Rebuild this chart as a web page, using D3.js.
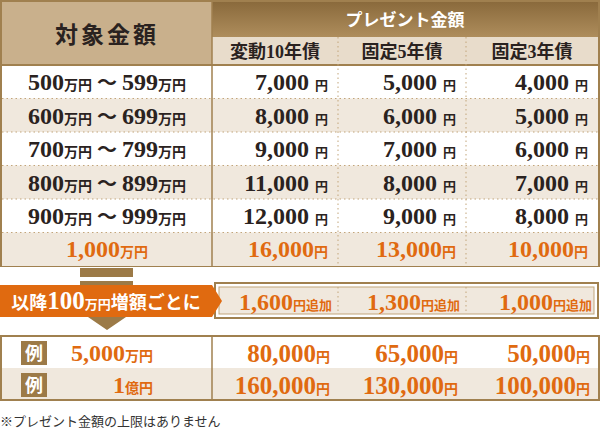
<!DOCTYPE html><html><head><meta charset="utf-8"><script src="https://cdn.jsdelivr.net/npm/d3@7"></script>
<style>body{margin:0;background:#fff}</style></head><body><svg id="c" width="600" height="430"></svg>
<script>
const columns=["変動10年債","固定5年債","固定3年債"];
const rangeLo=[500,600,700,800,900];
const rangeHi=[599,699,799,899,999];
const rowValues=[[7000,5000,4000],[8000,6000,5000],[9000,7000,6000],[11000,8000,7000],[12000,9000,8000]];
const baseValues=[16000,13000,10000];
const stepValues=[1600,1300,1000];
const exampleLabels=[["5,000","万円"],["1","億円"]];
const exampleValues=[[80000,65000,50000],[160000,130000,100000]];
const fmt=d3.format(",");
const svg=d3.select("#c");
const F="'Liberation Serif','Noto Sans CJK JP',serif";
const J="'Noto Sans CJK JP',sans-serif";
const brown="#a0804f",orange="#e06a10",dark="#2a2220";
const colX=d3.scaleOrdinal().domain([0,1,2,3]).range([2,212,338,466]);
const colEnd=[212,338,466,598];
const rowY=d3.scaleBand().domain(d3.range(6)).range([65,266]);
const defs=svg.append("defs");
const g=defs.append("linearGradient").attr("id","hg").attr("x1",0).attr("x2",0).attr("y1",0).attr("y2",1);
g.append("stop").attr("offset",0).attr("stop-color","#8a6a3c");g.append("stop").attr("offset",1).attr("stop-color","#ae8d5c");
svg.append("rect").attr("x",1).attr("y",1).attr("width",598).attr("height",265).attr("fill","#fff").attr("stroke",brown).attr("stroke-width",2);
svg.append("rect").attr("x",2).attr("y",2).attr("width",210).attr("height",63).attr("fill","#c9b08c");
svg.append("rect").attr("x",212).attr("y",2).attr("width",386).attr("height",35).attr("fill","url(#hg)");
svg.append("rect").attr("x",212).attr("y",37).attr("width",386).attr("height",28).attr("fill","#e8dccb");
svg.append("text").attr("x",107).attr("y",43).attr("text-anchor","middle").attr("font-family",J).attr("font-weight",700).attr("font-size",23).attr("fill",dark).attr("letter-spacing",3).text("対象金額");
svg.append("text").attr("x",405).attr("y",26).attr("text-anchor","middle").attr("font-family",J).attr("font-weight",700).attr("font-size",17).attr("fill","#fff").text("プレゼント金額");
columns.forEach((c,i)=>svg.append("text").attr("x",(colX(i+1)+colEnd[i+1])/2).attr("y",58).attr("text-anchor","middle").attr("font-family",F).attr("font-weight",700).attr("font-size",18).attr("fill",dark).text(c));
const rows=d3.range(6);
svg.selectAll(".rb").data(rows).join("rect").attr("x",2).attr("width",596).attr("y",d=>rowY(d)).attr("height",rowY.bandwidth()).attr("fill",d=>d%2?"#f0e8dd":"#fff");
svg.selectAll(".rl").data(d3.range(1,6)).join("line").attr("x1",2).attr("x2",598).attr("y1",d=>rowY(d)).attr("y2",d=>rowY(d)).attr("stroke","#c2a57a").attr("stroke-dasharray","1.5,3");
svg.append("line").attr("x1",2).attr("x2",598).attr("y1",65).attr("y2",65).attr("stroke",brown).attr("stroke-width",2);
svg.append("line").attr("x1",212).attr("x2",212).attr("y1",2).attr("y2",266).attr("stroke",brown).attr("stroke-width",1.5);
[338,466].forEach(x=>svg.append("line").attr("x1",x).attr("x2",x).attr("y1",37).attr("y2",266).attr("stroke","#c2a57a").attr("stroke-dasharray","1.5,3"));
function money(sel,x,y,num,unit,col,ns,us,anchor){
 const t=sel.append("text").attr("x",x).attr("y",y).attr("text-anchor",anchor||"end").attr("font-family",F).attr("font-weight",700).attr("fill",col);
 t.append("tspan").attr("font-size",ns).text(num);
 t.append("tspan").attr("font-size",us).attr("font-family",J).attr("font-weight",700).text(unit);
}
rangeLo.forEach((lo,i)=>{
 const y=rowY(i)+25;
 const t=svg.append("text").attr("x",107).attr("y",y).attr("text-anchor","middle").attr("font-family",F).attr("font-weight",700).attr("fill",dark);
 t.append("tspan").attr("font-size",24).text(lo);t.append("tspan").attr("font-size",14).attr("font-family",J).text("万円");
 t.append("tspan").attr("font-size",20).text(" ～ ");
 t.append("tspan").attr("font-size",24).text(rangeHi[i]);t.append("tspan").attr("font-size",14).attr("font-family",J).text("万円");
 rowValues[i].forEach((v,j)=>money(svg,colEnd[j+1]-10,y,fmt(v)+" ","円",dark,24,13));
});
{const y=rowY(5)+24;
 money(svg,107,y,"1,000","万円",orange,24,14,"middle");
 baseValues.forEach((v,j)=>money(svg,colEnd[j+1]-10,y,fmt(v),"円",orange,24,14));}
svg.append("rect").attr("x",80).attr("y",268).attr("width",53).attr("height",9).attr("fill","#9c7a47");
svg.append("path").attr("d","M80,281H133V304H145L107,330L69,304H80Z").attr("fill","#9c7a47");
svg.append("rect").attr("x",215).attr("y",283).attr("width",383).attr("height",35).attr("fill","#fff").attr("stroke",brown).attr("stroke-width",2);
svg.append("rect").attr("x",219).attr("y",287).attr("width",375).attr("height",27).attr("fill","#f0e8dd").attr("stroke","#c2a57a");
[338,466].forEach(x=>svg.append("line").attr("x1",x).attr("x2",x).attr("y1",287).attr("y2",314).attr("stroke","#c2a57a").attr("stroke-dasharray","1.5,3"));
svg.append("path").attr("d","M0,285H212L222,301L212,317H0Z").attr("fill",orange);
{const t=svg.append("text").attr("x",106).attr("y",309).attr("text-anchor","middle").attr("font-family",J).attr("font-weight",700).attr("fill","#fff").attr("font-size",18);
 t.append("tspan").text("以降");t.append("tspan").attr("font-family",F).attr("font-size",25).text("100");t.append("tspan").attr("font-size",13).text("万円");t.append("tspan").text("増額ごとに");}
stepValues.forEach((v,j)=>money(svg,colEnd[j+1]-6,310,fmt(v),"円追加",orange,24,13));
svg.append("rect").attr("x",1).attr("y",336).attr("width",598).attr("height",64).attr("fill","#fff").attr("stroke",brown).attr("stroke-width",2);
svg.append("rect").attr("x",2).attr("y",368).attr("width",596).attr("height",31).attr("fill","#f0e8dd");
svg.append("line").attr("x1",212).attr("x2",212).attr("y1",336).attr("y2",400).attr("stroke",brown).attr("stroke-width",1.5);
exampleLabels.forEach((l,i)=>{
 const y=336+i*32;
 svg.append("rect").attr("x",21).attr("y",y+5).attr("width",26).attr("height",24).attr("fill","#9c7a47");
 svg.append("text").attr("x",34).attr("y",y+24).attr("text-anchor","middle").attr("font-family",J).attr("font-weight",700).attr("font-size",18).attr("fill","#fff").text("例");
 money(svg,153,y+25,l[0],l[1],orange,24,14);
 exampleValues[i].forEach((v,j)=>money(svg,colEnd[j+1]-8,y+26,fmt(v),"円",orange,25,14));
});
svg.append("text").attr("x",0).attr("y",426).attr("font-family",J).attr("font-size",13).attr("fill","#333").text("※プレゼント金額の上限はありません");
</script></body></html>
